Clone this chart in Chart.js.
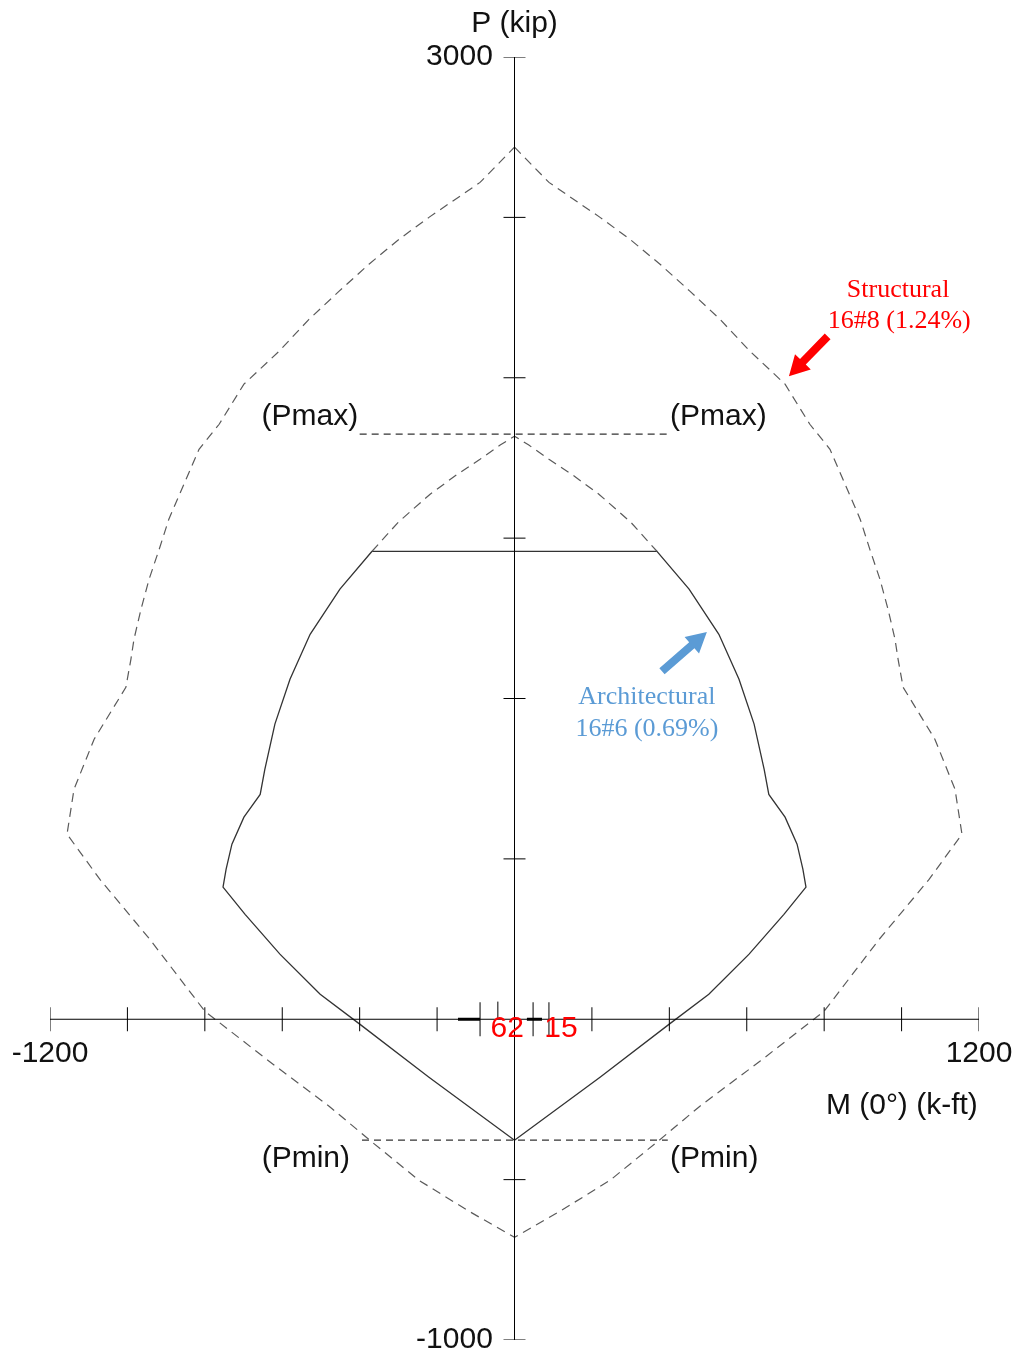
<!DOCTYPE html>
<html><head><meta charset="utf-8">
<script src="https://cdn.jsdelivr.net/npm/chart.js@4"></script>
<style>html,body{margin:0;padding:0;background:#fff}canvas{display:block}</style>
</head><body>
<canvas id="c" width="1018" height="1358"></canvas>
<script>
// ---- Data (M in k-ft, P in kip) ----
// Structural 16#8 (1.24%) outer diagram (dashed), full closed loop
const outerM = [0, 89, 221, 298, 376, 453, 531, 608, 699, 763, 815, 854, 893, 918, 944, 965, 983, 991, 1004, 1086, 1138, 1156, 1071, 942, 800, 634, 479, 371, 247, 117, 0,
                -117, -247, -371, -479, -634, -800, -942, -1071, -1156, -1138, -1086, -1004, -991, -983, -965, -944, -918, -893, -854, -815, -763, -699, -608, -531, -453, -376, -298, -221, -89, 0];
const outerP = [2719, 2609, 2500, 2432, 2354, 2270, 2182, 2083, 1980, 1855, 1777, 1668, 1559, 1465, 1372, 1278, 1185, 1122, 1035, 873, 717, 577, 436, 249, 25, -131, -271, -380, -502, -599, -680,
                -599, -502, -380, -271, -131, 25, 249, 436, 577, 717, 873, 1035, 1122, 1185, 1278, 1372, 1465, 1559, 1668, 1777, 1855, 1980, 2083, 2182, 2270, 2354, 2432, 2500, 2609, 2719];
// Architectural 16#6 (0.69%) inner diagram: dashed part above the cap
const innerTopM = [-368, -300, -218, -150, -89, -37, 0, 37, 89, 150, 218, 300, 368];
const innerTopP = [1459, 1550, 1637, 1697, 1746, 1790, 1818, 1790, 1746, 1697, 1637, 1550, 1459];
// inner diagram: solid capped part
const innerM = [-368, 368, 451, 528, 580, 619, 645, 657, 699, 730, 745, 753, 696, 606, 502, 399, 221, 0,
                -221, -399, -502, -606, -696, -753, -745, -730, -699, -657, -645, -619, -580, -528, -451, -368];
const innerP = [1459, 1459, 1341, 1200, 1060, 920, 779, 701, 630, 546, 468, 412, 327, 203, 78, -16, -181, -377,
                -181, -16, 78, 203, 327, 412, 468, 546, 630, 701, 779, 920, 1060, 1200, 1341, 1459];
// Pmax / Pmin limit lines
const pmaxM = [-400, 400], pmaxP = [1824, 1824];
const pminM = [-394, 396], pminP = [-377, -377];
// Axis ticks
const xTicks = [-1200, -1000, -800, -600, -400, -200, 200, 400, 600, 800, 1000, 1200];
const yTicks = [-1000, -500, 500, 1000, 1500, 2000, 2500, 3000];
const xTickLabels = ['-1200', '1200'];
const xTickLabelVals = [-1200, 1200];
const yTickLabels = ['3000', '-1000'];
const yTickLabelVals = [3000, -1000];
// Load point marks near the origin
const markSegLeftM = [-146, -89], markSegRightM = [32, 71];
const markCrossM = [-89, 48, 89];
const markShortM = [-43];
const loadLabels = ['62', '15'];
const loadLabelM = [-19, 120];

const zip = (a, b) => a.map((v, i) => ({x: v, y: b[i]}));

const SANS = '30px "Liberation Sans", Arial, sans-serif';
const SERIF = '26px "Liberation Serif", "Times New Roman", serif';
const annotations = {
  texts: [
    {t: 'P (kip)', x: 0, y: 3104, align: 'center', font: SANS, color: '#111'},
    {t: yTickLabels[0], x: -56, y: yTickLabelVals[0], align: 'right', font: SANS, color: '#111'},
    {t: yTickLabels[1], x: -56, y: yTickLabelVals[1], align: 'right', font: SANS, color: '#111'},
    {t: xTickLabels[0], x: xTickLabelVals[0], y: -109, align: 'center', font: SANS, color: '#111'},
    {t: xTickLabels[1], x: xTickLabelVals[1], y: -109, align: 'center', font: SANS, color: '#111'},
    {t: 'M (0°) (k-ft)', x: 1197, y: -271, align: 'right', font: SANS, color: '#111'},
    {t: '(Pmax)', x: -404, y: 1877, align: 'right', font: SANS, color: '#111'},
    {t: '(Pmax)', x: 402, y: 1877, align: 'left', font: SANS, color: '#111'},
    {t: '(Pmin)', x: -425, y: -436, align: 'right', font: SANS, color: '#111'},
    {t: '(Pmin)', x: 402, y: -436, align: 'left', font: SANS, color: '#111'},
    {t: 'Structural', x: 991, y: 2273, align: 'center', font: SERIF, color: '#ff0000'},
    {t: '16#8 (1.24%)', x: 994, y: 2176, align: 'center', font: SERIF, color: '#ff0000'},
    {t: 'Architectural', x: 342, y: 1004, align: 'center', font: SERIF, color: '#5b9bd5'},
    {t: '16#6 (0.69%)', x: 342, y: 904, align: 'center', font: SERIF, color: '#5b9bd5'},
  ],
  arrows: [
    {from: [809, 2129], to: [709, 2005], color: '#ff0000'},
    {from: [381, 1085], to: [497, 1207], color: '#5b9bd5'},
  ]
};

const annoPlugin = {
  id: 'anno',
  afterDatasetsDraw(chart) {
    const ctx = chart.ctx, xs = chart.scales.x, ys = chart.scales.y;
    ctx.save();
    ctx.textBaseline = 'middle';
    annotations.texts.forEach(a => {
      ctx.font = a.font; ctx.fillStyle = a.color; ctx.textAlign = a.align;
      ctx.fillText(a.t, xs.getPixelForValue(a.x), ys.getPixelForValue(a.y));
    });
    loadLabels.forEach((t, i) => {
      ctx.font = SANS; ctx.fillStyle = '#ff0000'; ctx.textAlign = 'center';
      ctx.fillText(t, xs.getPixelForValue(loadLabelM[i]), ys.getPixelForValue(-31));
    });
    annotations.arrows.forEach(a => {
      const x0 = xs.getPixelForValue(a.from[0]), y0 = ys.getPixelForValue(a.from[1]);
      const x1 = xs.getPixelForValue(a.to[0]), y1 = ys.getPixelForValue(a.to[1]);
      const ang = Math.atan2(y1 - y0, x1 - x0), len = Math.hypot(x1 - x0, y1 - y0);
      ctx.save();
      ctx.translate(x0, y0); ctx.rotate(ang);
      ctx.fillStyle = a.color;
      const hl = 20, hw = 11, sw = 4;
      ctx.beginPath();
      ctx.moveTo(0, -sw); ctx.lineTo(len - hl, -sw); ctx.lineTo(len - hl, -hw);
      ctx.lineTo(len, 0); ctx.lineTo(len - hl, hw); ctx.lineTo(len - hl, sw); ctx.lineTo(0, sw);
      ctx.closePath(); ctx.fill();
      ctx.restore();
    });
    ctx.restore();
  }
};

const lineDs = (pts, o) => Object.assign({data: pts, showLine: true, pointRadius: 0, fill: false, tension: 0}, o);

new Chart(document.getElementById('c'), {
  type: 'scatter',
  data: {
    datasets: [
      lineDs(zip([-1200, 1200], [0, 0]), {borderColor: '#000', borderWidth: 1}),
      lineDs(zip([0, 0], [-1000, 3000]), {borderColor: '#000', borderWidth: 1}),
      {data: xTicks.map(v => ({x: v, y: 0})), showLine: false, pointStyle: 'line', rotation: 90, pointRadius: 12, pointBorderColor: '#000', pointBorderWidth: 1},
      {data: yTicks.map(v => ({x: 0, y: v})), showLine: false, pointStyle: 'line', rotation: 0, pointRadius: 11, pointBorderColor: '#000', pointBorderWidth: 1},
      lineDs(zip(outerM, outerP), {borderColor: '#5a5a5a', borderWidth: 1.2, borderDash: [9, 6]}),
      lineDs(zip(innerTopM, innerTopP), {borderColor: '#5a5a5a', borderWidth: 1.2, borderDash: [9, 6]}),
      lineDs(zip(innerM, innerP), {borderColor: '#333', borderWidth: 1.3}),
      lineDs(zip(pmaxM, pmaxP), {borderColor: '#333', borderWidth: 1.2, borderDash: [7, 5]}),
      lineDs(zip(pminM, pminP), {borderColor: '#333', borderWidth: 1.2, borderDash: [7, 5]}),
      lineDs(zip(markSegLeftM, [0, 0]), {borderColor: '#000', borderWidth: 3}),
      lineDs(zip(markSegRightM, [0, 0]), {borderColor: '#000', borderWidth: 3}),
      {data: markCrossM.map(v => ({x: v, y: 0})), showLine: false, pointStyle: 'line', rotation: 90, pointRadius: 17, pointBorderColor: '#000', pointBorderWidth: 1},
      lineDs(zip([markShortM[0], markShortM[0]], [0, 55]), {borderColor: '#000', borderWidth: 1}),
    ]
  },
  options: {
    responsive: false,
    maintainAspectRatio: false,
    animation: false,
    devicePixelRatio: 1,
    layout: {padding: {left: 50, right: 39, top: 57, bottom: 18}},
    plugins: {legend: {display: false}, tooltip: {enabled: false}, title: {display: false}},
    scales: {
      x: {type: 'linear', min: -1200, max: 1200, display: false},
      y: {type: 'linear', min: -1000, max: 3000, display: false}
    }
  },
  plugins: [annoPlugin]
});
</script>
</body></html>
